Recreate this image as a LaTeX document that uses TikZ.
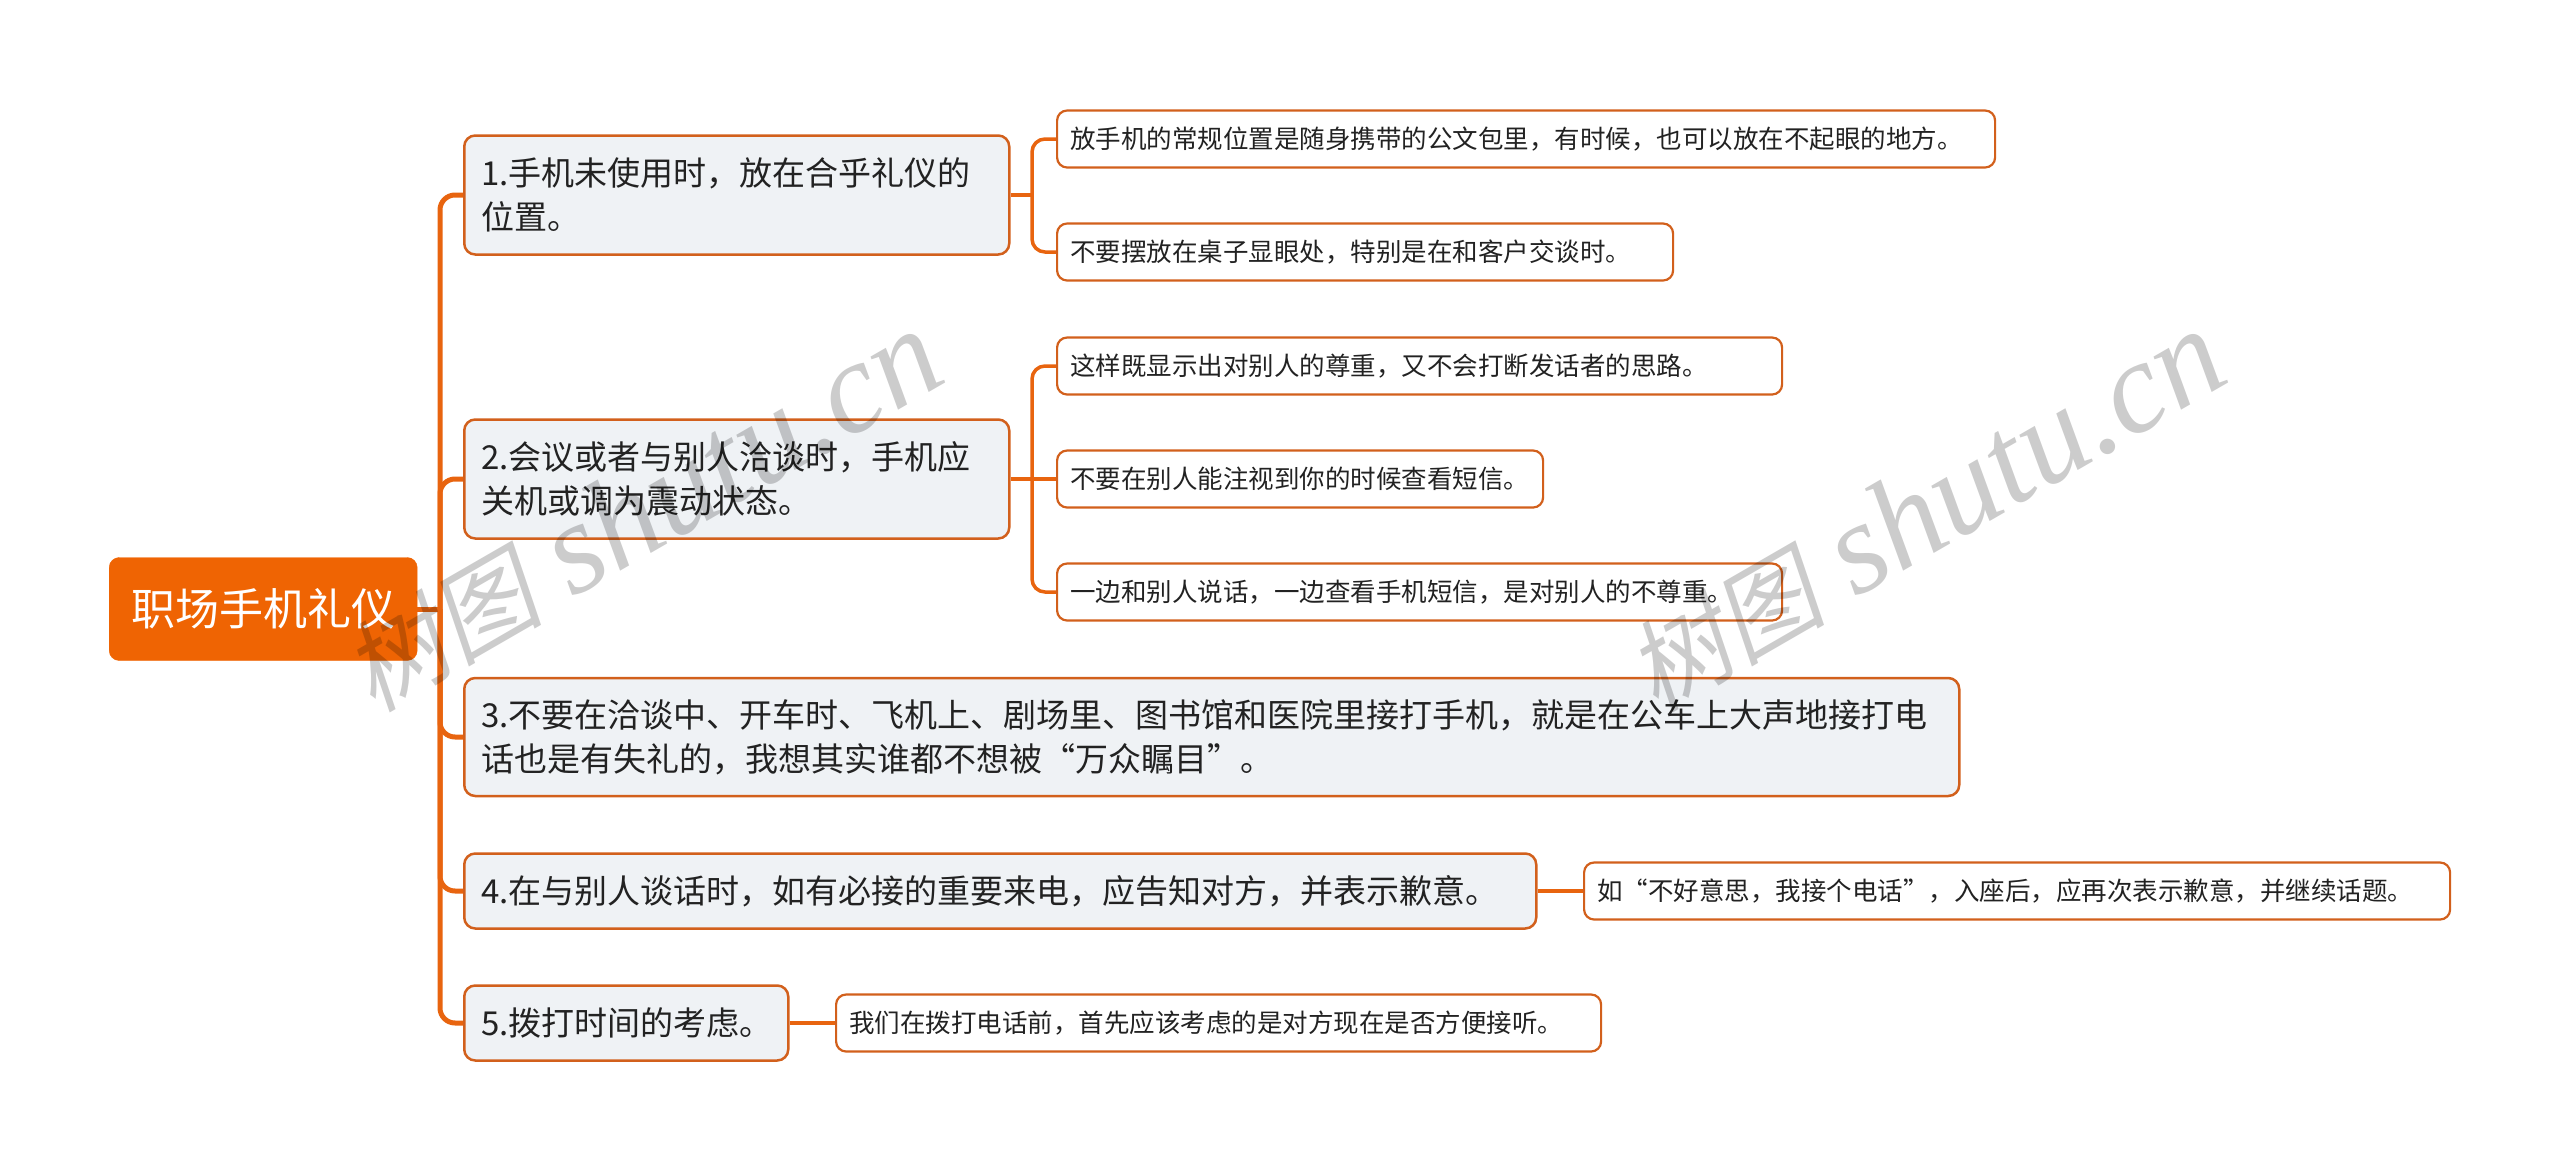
\documentclass[tikz,border=0pt]{standalone}
\usepackage{fontspec}
\setmainfont{Noto Sans CJK SC}
\newfontfamily\markserif{Liberation Serif}
\newfontfamily\markcjk[FakeSlant=0.2]{Noto Sans CJK SC}
\definecolor{linecol}{HTML}{E8640F}
\definecolor{edgecol}{HTML}{D2601C}
\definecolor{rootcol}{HTML}{EF6403}
\definecolor{topicfill}{HTML}{EFF2F5}
\definecolor{textcol}{HTML}{222222}
\tikzset{
    rootbox/.style={draw=rootcol, fill=rootcol, rounded corners=10pt, text=white, anchor=west,
        font=\fontsize{44}{52}\selectfont, inner xsep=0pt, align=center},
    topicbox/.style={draw=edgecol, line width=2.5pt, fill=topicfill, rounded corners=11pt, text=textcol,
        anchor=west, font=\fontsize{33}{44}\selectfont, inner xsep=17pt, inner ysep=0pt, align=left},
    leafbox/.style={draw=edgecol, line width=2.2pt, fill=white, rounded corners=10pt, text=textcol,
        anchor=west, font=\fontsize{25.5}{32}\selectfont, inner xsep=13pt, inner ysep=0pt, align=left,
        minimum height=57pt},
    trunkline/.style={draw=linecol, line width=5pt, rounded corners=15pt},
    leafline/.style={draw=linecol, line width=3.5pt, rounded corners=13pt},
    watermark/.style={text=black, text opacity=0.2, rotate=30, anchor=base west, inner sep=0pt}
}
% One watermark: the two characters are set smaller than the latin part
\newcommand{\markbody}{{\markcjk\fontsize{100}{108}\selectfont 树图}\hspace{30pt}{\markserif\itshape\fontsize{130}{140}\selectfont shutu.cn}}
\begin{document}
\begin{tikzpicture}[x=1pt, y=-1pt]

    % Fix the page to the size of the reference
    \useasboundingbox (0, 0) rectangle (2560, 1170);

    % Central topic
    \node[rootbox, minimum width=308pt, minimum height=103pt] (root) at (109, 609) {职场手机礼仪};

    % Main topics
    \node[topicbox, text width=511pt, minimum height=119pt] (t1) at (463, 195) {1.手机未使用时，放在合乎礼仪的\\位置。};
    \node[topicbox, text width=511pt, minimum height=119pt] (t2) at (463, 479) {2.会议或者与别人洽谈时，手机应\\关机或调为震动状态。};
    \node[topicbox, text width=1461pt, minimum height=118pt] (t3) at (463, 737) {3.不要在洽谈中、开车时、飞机上、剧场里、图书馆和医院里接打手机，就是在公车上大声地接打电\\话也是有失礼的，我想其实谁都不想被“万众瞩目”。};
    \node[topicbox, text width=1038pt, minimum height=75pt] (t4) at (463, 891) {4.在与别人谈话时，如有必接的重要来电，应告知对方，并表示歉意。};
    \node[topicbox, text width=290pt, minimum height=75pt] (t5) at (463, 1023) {5.拨打时间的考虑。};

    % Details of topic 1
    \node[leafbox, text width=912pt] (t1a) at (1056, 139) {放手机的常规位置是随身携带的公文包里，有时候，也可以放在不起眼的地方。};
    \node[leafbox, text width=590pt] (t1b) at (1056, 252) {不要摆放在桌子显眼处，特别是在和客户交谈时。};

    % Details of topic 2
    \node[leafbox, text width=699pt] (t2a) at (1056, 366) {这样既显示出对别人的尊重，又不会打断发话者的思路。};
    \node[leafbox, text width=460pt] (t2b) at (1056, 479) {不要在别人能注视到你的时候查看短信。};
    \node[leafbox, text width=699pt] (t2c) at (1056, 592) {一边和别人说话，一边查看手机短信，是对别人的不尊重。};

    % Details of topics 4 and 5
    \node[leafbox, text width=840pt] (t4a) at (1583, 891) {如“不好意思，我接个电话”，入座后，应再次表示歉意，并继续话题。};
    \node[leafbox, text width=739pt] (t5a) at (835, 1023) {我们在拨打电话前，首先应该考虑的是对方现在是否方便接听。};

    % Points where the branches split
    \coordinate (split) at (440, 609);
    \coordinate (split1) at (1032, 195);
    \coordinate (split2) at (1032, 479);

    % Draw the trunk from the central topic to the main topics
    \draw[trunkline] (root.east) -- (split);
    \draw[trunkline] (split) |- (t1.west);
    \draw[trunkline] (split) |- (t2.west);
    \draw[trunkline] (split) |- (t3.west);
    \draw[trunkline] (split) |- (t4.west);
    \draw[trunkline] (split) |- (t5.west);

    % Draw the branches of topic 1
    \draw[leafline] (t1.east) -- (split1);
    \draw[leafline] (split1) |- (t1a.west);
    \draw[leafline] (split1) |- (t1b.west);

    % Draw the branches of topic 2
    \draw[leafline] (t2.east) -- (t2b.west);
    \draw[leafline] (split2) |- (t2a.west);
    \draw[leafline] (split2) |- (t2c.west);

    % Draw the branches of topics 4 and 5
    \draw[leafline] (t4.east) -- (t4a.west);
    \draw[leafline] (t5.east) -- (t5a.west);

    % Watermarks lie over everything
    \node[watermark] (mark1) at (373, 714) {\markbody};
    \node[watermark] (mark2) at (1656, 714) {\markbody};

\end{tikzpicture}
\end{document}
